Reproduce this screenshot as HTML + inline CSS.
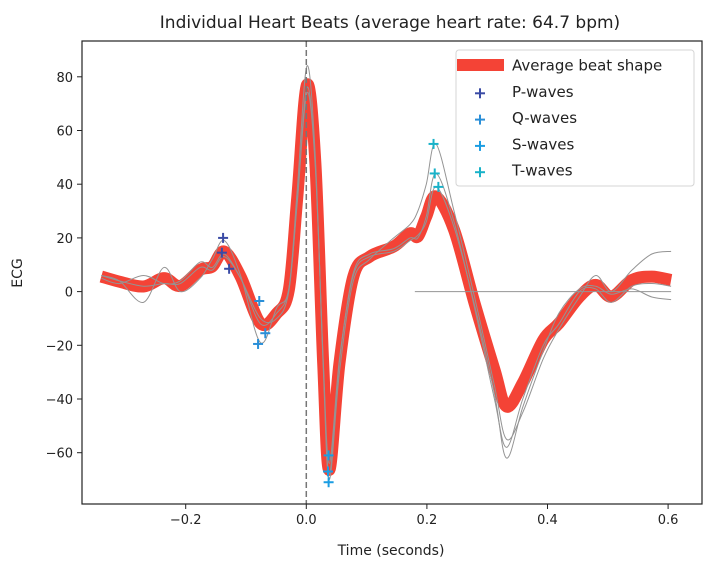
<!DOCTYPE html>
<html><head><meta charset="utf-8">
<style>
html,body{margin:0;padding:0;background:#fff;}
svg{display:block;font-family:"DejaVu Sans","Liberation Sans",sans-serif;}
</style></head>
<body>
<svg id="chart" width="711" height="567" viewBox="0 0 711 567" xmlns="http://www.w3.org/2000/svg">
<rect width="711" height="567" fill="#fff"/>
<text x="390" y="28" font-size="17" text-anchor="middle" fill="#222">Individual Heart Beats (average heart rate: 64.7 bpm)</text>
<g id="plot"></g>
</svg>
<script>
const times = [-0.340,-0.310,-0.270,-0.236,-0.209,-0.176,-0.156,-0.136,-0.109,-0.076,-0.049,-0.029,-0.015,0.001,0.015,0.028,0.038,0.055,0.078,0.105,0.145,0.172,0.185,0.199,0.215,0.245,0.279,0.312,0.332,0.359,0.393,0.419,0.453,0.480,0.506,0.540,0.573,0.605];
const avgBeat = [5.6,3.7,1.9,5.0,2.1,8.1,9.3,14.9,5.6,-11.8,-8.1,0.6,35,77,48,-26.7,-66.4,-26.7,5.6,13,16.8,21.7,20.5,28,35.4,23,-4.3,-29,-42.8,-34,-18,-11.8,-1.9,2.5,-1.9,4.3,5.6,4.3];
const beat1 = [6,4,-4,9,0,5,12,19,6,-19,-6,1,38,84,50,-28,-70,-30,4,12,20,25,30,40,55,30,-2,-35,-55,-45,-25,-14,-2,6,0,8,14,15];
const beat2 = [5,3,6,3,4,11,9,14,5,-10,-10,0,34,76,47,-26,-68,-26,7,14,16,20,20,28,44,26,-6,-40,-58,-40,-20,-12,0,1,-4,2,3,2];
const beat3 = [6,4,2,3,3,9,8,13,5,-12,-8,1,33,74,46,-25,-64,-25,6,13,15,19,21,26,39,24,-5,-38,-62,-43,-22,-8,1,2,-1,1,-2,-3];
const flatT = [0.18,0.605];
const flatV = [0,0];
const pT=[-0.138,-0.140,-0.128], pV=[20,14.5,8.5];
const qT=[-0.078,-0.080,-0.068], qV=[-3.5,-19.5,-15.5];
const sT=[0.037,0.036,0.037], sV=[-61,-67,-71];
const tT=[0.211,0.213,0.219], tV=[55,44,39];
const xTicks=[-0.2,0.0,0.2,0.4,0.6];
const xTickLabels=["\u22120.2","0.0","0.2","0.4","0.6"];
const yTicks=[-60,-40,-20,0,20,40,60,80];
const yTickLabels=["\u221260","\u221240","\u221220","0","20","40","60","80"];

const L=82,R=702,T=41,B=504;
const X0=306.3, XS=603, Y0=291.6, YS=2.685;
const sx=t=>X0+t*XS, sy=v=>Y0-v*YS;
const NS="http://www.w3.org/2000/svg";
const g=document.getElementById('plot');
function mk(tag,attrs,parent){const e=document.createElementNS(NS,tag);for(const k in attrs)e.setAttribute(k,attrs[k]);(parent||g).appendChild(e);return e;}
function smooth(ts,vs){
  const p=ts.map((t,i)=>[sx(t),sy(vs[i])]);
  let d=`M${p[0][0]},${p[0][1]}`;
  for(let i=0;i<p.length-1;i++){
    const p0=p[i-1]||p[i],p1=p[i],p2=p[i+1],p3=p[i+2]||p2;
    const c1=[p1[0]+(p2[0]-p0[0])/6,p1[1]+(p2[1]-p0[1])/6];
    const c2=[p2[0]-(p3[0]-p1[0])/6,p2[1]-(p3[1]-p1[1])/6];
    d+=` C${c1[0]},${c1[1]} ${c2[0]},${c2[1]} ${p2[0]},${p2[1]}`;
  }
  return d;
}
const defs=mk('defs',{});
const cp=mk('clipPath',{id:'clip'},defs);
mk('rect',{x:L,y:T,width:R-L,height:B-T},cp);
const plot=mk('g',{'clip-path':'url(#clip)'});

let e;
e=mk('path',{d:smooth(times,avgBeat),fill:'none',stroke:'#f44336',"stroke-width":12,"stroke-linejoin":'round',"stroke-linecap":'butt'},plot);


[beat1,beat2,beat3].forEach((b,i)=>{
  const l=mk('path',{d:smooth(times,b),fill:'none',stroke:'#949494',"stroke-width":1},plot);
  
  
});
e=mk('path',{d:`M${sx(flatT[0])},${sy(flatV[0])} L${sx(flatT[1])},${sy(flatV[1])}`,stroke:'#949494',"stroke-width":1},plot);


e=mk('line',{x1:sx(0),x2:sx(0),y1:T,y2:B,stroke:'#777',"stroke-width":1.5,"stroke-dasharray":'6,3'},plot);


function plus(x,y,c,parent){
  const gg=mk('g',{stroke:c,"stroke-width":2},parent);
  mk('line',{x1:x-5,x2:x+5,y1:y,y2:y},gg);mk('line',{x1:x,x2:x,y1:y-5,y2:y+5},gg);return gg;
}
const waves=[[pT,pV,'#3a4ba5','p-wave-marker'],[qT,qV,'#2a8fd8','q-wave-marker'],[sT,sV,'#1b9de2','s-wave-marker'],[tT,tV,'#19b2c9','t-wave-marker']];
waves.forEach(([ts,vs,c,n])=>{ts.forEach((t,i)=>{const m=plus(sx(t),sy(vs[i]),c,plot);
  
  });});

mk('rect',{x:L,y:T,width:R-L,height:B-T,fill:'none',stroke:'#222',"stroke-width":1.2});
xTicks.forEach((t,i)=>{
  mk('line',{x1:sx(t),x2:sx(t),y1:B,y2:B+5,stroke:'#222'});
  const tx=mk('text',{x:sx(t),y:B+20,"font-size":13,"text-anchor":'middle',fill:'#222'});tx.textContent=xTickLabels[i];
  
  
});
yTicks.forEach((v,i)=>{
  mk('line',{x1:L-5,x2:L,y1:sy(v),y2:sy(v),stroke:'#222'});
  const tx=mk('text',{x:L-9,y:sy(v)+5,"font-size":13,"text-anchor":'end',fill:'#222'});tx.textContent=yTickLabels[i];
  
  
});
e=mk('text',{x:391,y:555,"font-size":14,"text-anchor":'middle',fill:'#222'});e.textContent='Time (seconds)';


e=mk('text',{x:22,y:273,"font-size":14,"text-anchor":'middle',fill:'#222',transform:'rotate(-90 22 273)'});e.textContent='ECG';



const lg=mk('g',{});


mk('rect',{x:456,y:50,width:238,height:136,rx:3,fill:'#fff',"fill-opacity":0.85,stroke:'#d5d5d5'},lg);
mk('rect',{x:457,y:59,width:47,height:12,fill:'#f44336'},lg);
const labels=['Average beat shape','P-waves','Q-waves','S-waves','T-waves'];
labels.forEach((s,i)=>{
  const y=65+i*26.3;
  if(i>0)plus(480,y+2,waves[i-1][2],lg);
  const tx=mk('text',{x:512,y:y+5.5,"font-size":15,fill:'#222'},lg);tx.textContent=s;
  
  
});
</script>
</body></html>
